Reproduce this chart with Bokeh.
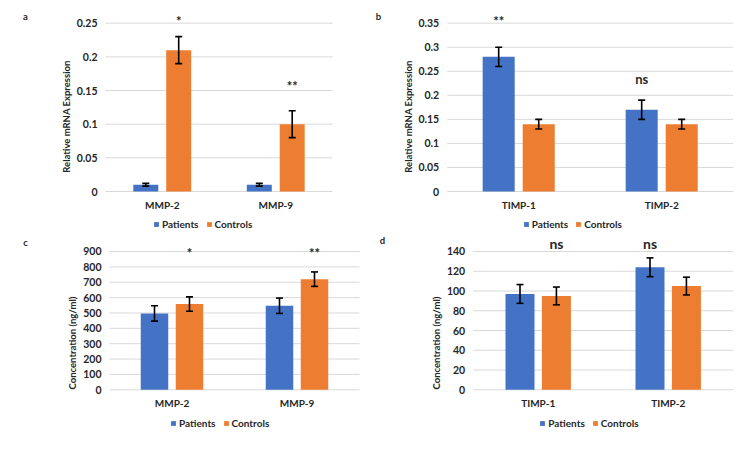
from bokeh.plotting import figure
from bokeh.layouts import column, row
from bokeh.models import (ColumnDataSource, Range1d, FixedTicker, Whisker,
                          Legend, LegendItem, Label, NumeralTickFormatter, TeeHead)
from bokeh.core.properties import value
from bokeh.embed import file_html
from bokeh.resources import INLINE

# ---------------- data ----------------
series = ["Patients", "Controls"]

a_cats = ["MMP-2", "MMP-9"]
a_patients = [0.01, 0.01]
a_patients_err = [0.002, 0.002]
a_controls = [0.21, 0.10]
a_controls_err = [0.02, 0.02]
a_ticks = [0, 0.05, 0.1, 0.15, 0.2, 0.25]
a_sig = ["*", "**"]
a_sig_series = ["Controls", "Controls"]
a_sig_y = [0.253, 0.157]

b_cats = ["TIMP-1", "TIMP-2"]
b_patients = [0.28, 0.17]
b_patients_err = [0.02, 0.02]
b_controls = [0.14, 0.14]
b_controls_err = [0.01, 0.01]
b_ticks = [0, 0.05, 0.1, 0.15, 0.2, 0.25, 0.3, 0.35]
b_sig = ["**", "ns"]
b_sig_series = ["Patients", "Patients"]
b_sig_y = [0.355, 0.233]

c_cats = ["MMP-2", "MMP-9"]
c_patients = [497, 547]
c_patients_err = [50, 50]
c_controls = [558, 720]
c_controls_err = [47, 47]
c_ticks = [0, 100, 200, 300, 400, 500, 600, 700, 800, 900]
c_sig = ["*", "**"]
c_sig_series = ["Controls", "Controls"]
c_sig_y = [891, 891]

d_cats = ["TIMP-1", "TIMP-2"]
d_patients = [97, 124]
d_patients_err = [9.5, 9.5]
d_controls = [95, 105]
d_controls_err = [9, 9]
d_ticks = [0, 20, 40, 60, 80, 100, 120, 140]
d_sig = ["ns", "ns"]
d_sig_series = ["Controls", "Patients"]
d_sig_y = [148, 148]

# ---------------- style ----------------
BLUE = "#4472C4"
ORANGE = "#ED7D31"
GRID = "#D9D9D9"
TXT = "#262626"
FONT = "Lato"


def panel(letter, cats, pat, pat_err, con, con_err, ticks, fmt, ylabel,
          sig, sig_series, sig_y, sig_size,
          width, height, xr, yr, off, bw, leg_xy, letter_xy):
    p = figure(width=width, height=height, x_range=Range1d(*xr), y_range=Range1d(*yr),
               output_backend="svg", toolbar_location=None,
               min_border_left=0, min_border_right=0, min_border_top=0, min_border_bottom=0)
    p.outline_line_color = None
    p.background_fill_color = "white"
    p.border_fill_color = "white"
    p.xgrid.visible = False
    p.ygrid.visible = False

    idx = list(range(len(cats)))
    src = ColumnDataSource(dict(
        xp=[i - off for i in idx], xc=[i + off for i in idx], pat=pat, con=con,
        pat_lo=[v - e for v, e in zip(pat, pat_err)], pat_hi=[v + e for v, e in zip(pat, pat_err)],
        con_lo=[v - e for v, e in zip(con, con_err)], con_hi=[v + e for v, e in zip(con, con_err)],
    ))

    # horizontal gridlines across the category area only
    p.segment(x0=[-0.5] * len(ticks), x1=[len(cats) - 0.5] * len(ticks), y0=ticks, y1=ticks,
              line_color=GRID, line_width=1)

    r1 = p.vbar(x="xp", top="pat", width=bw, source=src, fill_color=BLUE, line_color=None)
    r2 = p.vbar(x="xc", top="con", width=bw, source=src, fill_color=ORANGE, line_color=None)

    for key, xk in (("pat", "xp"), ("con", "xc")):
        w = Whisker(base=xk, upper=key + "_hi", lower=key + "_lo",
                    source=src, line_color="black", line_width=1.6, level="overlay",
                    upper_head=TeeHead(size=7, line_color="black", line_width=1.6),
                    lower_head=TeeHead(size=7, line_color="black", line_width=1.6))
        p.add_layout(w)

    offs = {"Patients": -off, "Controls": off}
    p.text(x=[i + offs[s] for i, s in zip(idx, sig_series)], y=sig_y, text=sig,
           text_align="center", text_baseline="middle",
           text_font=value(FONT), text_font_style="bold", text_font_size=sig_size,
           text_color=TXT)

    # y axis (fixed at left edge of category area)
    p.yaxis.fixed_location = -0.5
    p.yaxis.ticker = FixedTicker(ticks=ticks)
    p.yaxis.formatter = NumeralTickFormatter(format=fmt)
    p.yaxis.axis_line_color = None
    p.yaxis.major_tick_line_color = None
    p.yaxis.minor_tick_line_color = None
    p.yaxis.major_tick_out = 0
    p.yaxis.major_tick_in = 0
    p.yaxis.minor_tick_out = 0
    p.yaxis.major_label_standoff = 8
    p.yaxis.major_label_text_font = FONT
    p.yaxis.major_label_text_font_style = "bold"
    p.yaxis.major_label_text_font_size = "10.5px"
    p.yaxis.major_label_text_color = TXT
    p.yaxis.axis_label = ylabel
    p.yaxis.axis_label_text_font = FONT
    p.yaxis.axis_label_text_font_style = "bold"
    p.yaxis.axis_label_text_font_size = "9.5px"
    p.yaxis.axis_label_text_color = TXT
    p.yaxis.axis_label_standoff = 2

    # x axis (fixed at zero)
    p.xaxis.fixed_location = 0
    p.xaxis.ticker = FixedTicker(ticks=idx)
    p.xaxis.major_label_overrides = {i: c for i, c in zip(idx, cats)}
    p.xaxis.axis_line_color = None
    p.xaxis.major_tick_line_color = None
    p.xaxis.minor_tick_line_color = None
    p.xaxis.major_tick_out = 0
    p.xaxis.major_tick_in = 0
    p.xaxis.minor_tick_out = 0
    p.xaxis.major_label_standoff = 7
    p.xaxis.major_label_text_font = FONT
    p.xaxis.major_label_text_font_style = "bold"
    p.xaxis.major_label_text_font_size = "10px"
    p.xaxis.major_label_text_color = TXT

    legend = Legend(items=[LegendItem(label=series[0], renderers=[r1]),
                           LegendItem(label=series[1], renderers=[r2])],
                    orientation="horizontal", location=leg_xy,
                    glyph_width=6, glyph_height=6, label_standoff=3, spacing=7,
                    padding=0, margin=0, border_line_color=None, background_fill_alpha=0,
                    label_text_font=FONT, label_text_font_style="bold",
                    label_text_font_size="10px", label_text_color=TXT,
                    label_height=11)
    p.add_layout(legend)

    lab = Label(x=letter_xy[0], y=letter_xy[1], x_units="screen", y_units="screen", text=letter,
                text_font=FONT, text_font_style="bold", text_font_size="9.5px", text_color=TXT,
                text_align="center", text_baseline="middle")
    p.add_layout(lab)
    return p


pa = panel("a", a_cats, a_patients, a_patients_err, a_controls, a_controls_err, a_ticks, "0.[00]",
           "Relative mRNA Expression", a_sig, a_sig_series, a_sig_y, "13px",
           375, 232, (-1.4251, 1.8789), (-0.0609, 0.28372), 0.145, 0.22, (153, 2.5), (25, 216))
pb = panel("b", b_cats, b_patients, b_patients_err, b_controls, b_controls_err, b_ticks, "0.[00]",
           "Relative mRNA Expression", b_sig, b_sig_series, b_sig_y, "13px",
           375, 232, (-1.0014, 1.621), (-0.08526, 0.3972), 0.14, 0.224, (147.7, 2.5), (3, 216))
pc = panel("c", c_cats, c_patients, c_patients_err, c_controls, c_controls_err, c_ticks, "0",
           "Concentration (ng/ml)", c_sig, c_sig_series, c_sig_y, "13px",
           375, 221, (-1.372, 1.628), (-414.5, 1023.6), 0.14, 0.22, (170, 24.5), (25, 211))
pd_ = panel("d", d_cats, d_patients, d_patients_err, d_controls, d_controls_err, d_ticks, "0",
            "Concentration (ng/ml)", d_sig, d_sig_series, d_sig_y, "14px",
            375, 221, (-1.2515, 1.633), (-64.5, 159.2), 0.14, 0.223, (164.3, 24.5), (7, 213))

layout = column(row(pa, pb), row(pc, pd_))
open("out.html", "w").write(file_html(layout, INLINE))
